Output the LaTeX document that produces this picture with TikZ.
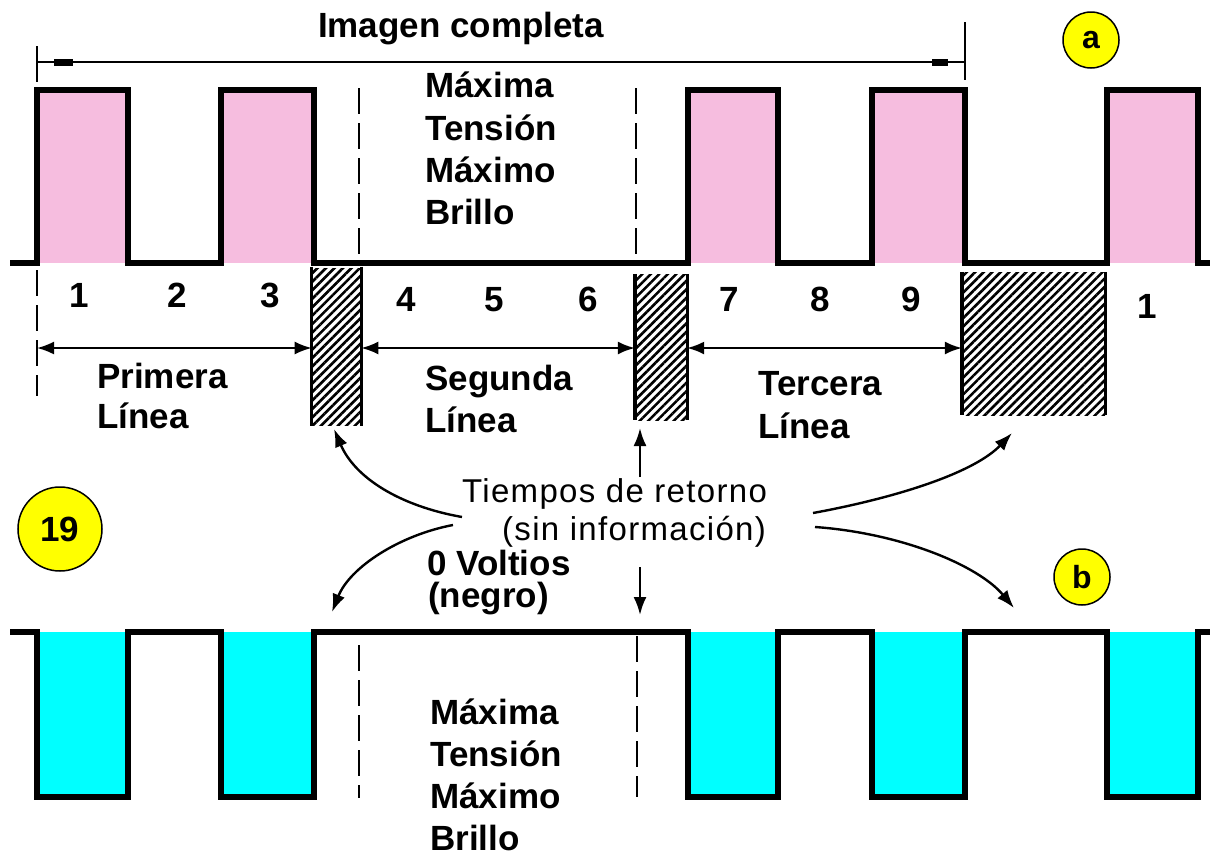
\documentclass[tikz,border=0pt]{standalone}
\usepackage{fontspec}
\setmainfont{Liberation Sans}
\newfontfamily\spacedfont[LetterSpace=4]{Liberation Sans}
\usetikzlibrary{patterns.meta,arrows.meta}
\definecolor{pulsepink}{RGB}{246,189,223}
\definecolor{pulsecyan}{RGB}{0,255,255}
\definecolor{badgeyellow}{RGB}{255,255,0}

\tikzset{
  wave/.style={line width=6.5pt, line join=miter},
  guide/.style={line width=2pt, dash pattern=on 26pt off 9pt},
  lbl/.style={font=\fontsize{35}{42}\selectfont\bfseries, inner sep=0pt},
  note/.style={font=\fontsize{33}{40}\selectfont\spacedfont, inner sep=0pt},
  hatchbox/.style={draw=none, inner sep=0pt,
    pattern={Lines[angle=45,distance=6pt,line width=2.6pt]}},
  span/.style={line width=2pt,
    {Latex[length=17pt,width=13pt]}-{Latex[length=17pt,width=13pt]}},
  pointer/.style={line width=2.4pt, -{Latex[length=18pt,width=13pt]}},
  badge/.style={circle, draw=black, line width=1.5pt, fill=badgeyellow,
    inner sep=0pt, font=\fontsize{32}{32}\selectfont\bfseries},
}

\begin{document}
\begin{tikzpicture}[x=1pt,y=-1pt]
\useasboundingbox (0,0) rectangle (1212,857);

% ---------- upper signal (a) ----------
\foreach \l/\r in {37/128,221/314,688/778,872/965,1107/1198}
  \fill[pulsepink] (\l,90) rectangle (\r,263);
\draw[wave] (10,263) -| (37,90) -| (128,263) -| (221,90) -| (314,263)
  -| (688,90) -| (778,263) -| (872,90) -| (965,263) -| (1107,90)
  -| (1198,263) -- (1210,263);
\draw[guide] (359,88) -- (359,254);
\draw[guide] (636,88) -- (636,256);
\draw[guide] (37,270) -- (37,396);

% full-frame dimension line
\draw[line width=1.8pt] (37,62) -- (965,62);
\draw[line width=1.8pt] (37,46) -- (37,82);
\draw[line width=1.8pt] (965,22) -- (965,80);
\fill (54,59) rectangle (73,66);
\fill (932,59) rectangle (948,66);
\node[lbl, anchor=base] (title) at (461,37) {Imagen completa};

\node[badge, minimum size=56pt] (ba) at (1091,40) {a};

\node[lbl, anchor=base west] (ua1) at (425,97)  {Máxima};
\node[lbl, anchor=base west] (ua2) at (425,140) {Tensión};
\node[lbl, anchor=base west] (ua3) at (425,182) {Máximo};
\node[lbl, anchor=base west] (ua4) at (425,224) {Brillo};

% element numbers
\node[lbl, anchor=base] (n1) at (79,307)  {1};
\node[lbl, anchor=base] (n2) at (177,307) {2};
\node[lbl, anchor=base] (n3) at (270,307) {3};
\node[lbl, anchor=base] (n4) at (406,311) {4};
\node[lbl, anchor=base] (n5) at (494,311) {5};
\node[lbl, anchor=base] (n6) at (588,311) {6};
\node[lbl, anchor=base] (n7) at (729,311) {7};
\node[lbl, anchor=base] (n8) at (820,311) {8};
\node[lbl, anchor=base] (n9) at (911,311) {9};
\node[lbl, anchor=base] (n10) at (1147,318) {1};

% retrace intervals
\node[hatchbox, minimum width=47pt, minimum height=157pt] (h1) at (336.5,346.5) {};
\node[hatchbox, minimum width=52pt, minimum height=146pt] (h2) at (661,347) {};
\node[hatchbox, minimum width=143pt, minimum height=143pt] (h3) at (1033.5,343.5) {};
\foreach \h in {h1,h2,h3}{
  \draw[line width=3.5pt] (\h.north west) -- (\h.south west);
  \draw[line width=3pt] (\h.north east) -- (\h.south east);
}

% line spans
\coordinate (s0) at (37,348);
\draw[span] (s0) -- (s0 -| h1.west);
\draw[span] (s0 -| h1.east) -- (s0 -| h2.west);
\draw[span] (s0 -| h2.east) -- (s0 -| h3.west);

\node[lbl, anchor=base west] (l1a) at (97,388)  {Primera};
\node[lbl, anchor=base west] (l1b) at (97,428)  {Línea};
\node[lbl, anchor=base west] (l2a) at (425,390) {Segunda};
\node[lbl, anchor=base west] (l2b) at (425,432) {Línea};
\node[lbl, anchor=base west] (l3a) at (758,395) {Tercera};
\node[lbl, anchor=base west] (l3b) at (758,438) {Línea};

% central note and its pointers
\node[note, anchor=base west] (t1) at (462,502) {Tiempos de retorno};
\node[note, anchor=base west] (t2) at (502,540) {(sin información)};
\node[lbl, anchor=base west] (v1) at (427,575) {0 Voltios};
\node[lbl, anchor=base west] (v2) at (428,607) {(negro)};

\coordinate (pUL) at (462,517);
\coordinate (pLL) at (453,525);
\coordinate (pUR) at (813,513);
\coordinate (pLR) at (815,527);
\coordinate (pUp) at (640,477);
\coordinate (pDn) at (640,567);
\coordinate (tUL) at (334,429);
\coordinate (tLL) at (332,612);
\coordinate (tUR) at (1012,433);
\coordinate (tLR) at (1014,608);
\coordinate (tUp) at (640,428);
\coordinate (tDn) at (640,615);
\draw[pointer] (pUL) .. controls (400,506) and (355,478) .. (tUL);
\draw[pointer] (pLL) .. controls (400,535) and (350,567) .. (tLL);
\draw[pointer] (pUR) .. controls (900,497) and (975,472) .. (tUR);
\draw[pointer] (pLR) .. controls (900,533) and (978,565) .. (tLR);
\draw[pointer] (pUp) -- (tUp);
\draw[pointer] (pDn) -- (tDn);

\node[badge, minimum size=84pt, font=\fontsize{35}{35}\selectfont\bfseries] (b19) at (60,529) {19};
\node[badge, minimum size=56pt] (bb) at (1082,577) {b};

% ---------- lower signal (b) ----------
\foreach \l/\r in {37/128,221/314,688/778,872/965,1107/1198}
  \fill[pulsecyan] (\l,632) rectangle (\r,797);
\draw[wave] (10,632) -| (37,797) -| (128,632) -| (221,797) -| (314,632)
  -| (688,797) -| (778,632) -| (872,797) -| (965,632) -| (1107,797)
  -| (1198,632) -- (1210,632);
\draw[guide] (359,645) -- (359,798);
\draw[guide] (637,636) -- (637,797);

\node[lbl, anchor=base west] (lb1) at (430,724) {Máxima};
\node[lbl, anchor=base west] (lb2) at (430,766) {Tensión};
\node[lbl, anchor=base west] (lb3) at (430,808) {Máximo};
\node[lbl, anchor=base west] (lb4) at (430,850) {Brillo};
\end{tikzpicture}
\end{document}
